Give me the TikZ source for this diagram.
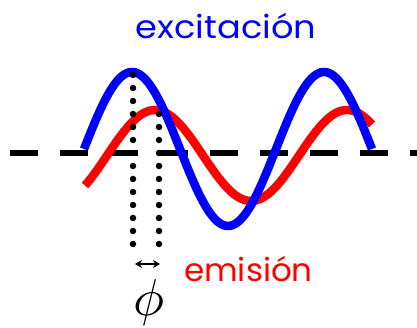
\documentclass[tikz,border=0pt]{standalone}
\usepackage{fontspec}
\setmainfont{Poppins}
\usetikzlibrary{arrows.meta}
\definecolor{wblue}{RGB}{0,0,255}
\definecolor{wred}{RGB}{255,0,0}
\begin{document}
\begin{tikzpicture}[x=1pt,y=-1pt,
  wave/.style={line width=8.5pt},
  guide/.style={line width=6.5pt, line cap=round, dash pattern=on 0pt off 13pt},
  axisline/.style={line width=5.5pt, dash pattern=on 28pt off 22pt},
  lbl/.style={inner sep=0pt, font=\fontsize{32}{36}\selectfont}]
\useasboundingbox (0,0) rectangle (417,328);
\coordinate (axL) at (10,153);
\coordinate (axR) at (417,153);
\draw[axisline] (axL) -- (axR);
\draw[wave, wred] plot[domain=85:372, samples=120] (\x, {155.5 - 45.5*cos(1.875*(\x-155))});
\draw[wave, wblue] plot[domain=84:372, samples=120] (\x, {149 - 77*cos(1.875*(\x-132))});
\coordinate (pA) at (133,75);
\coordinate (pB) at (159,114);
\coordinate (bA) at (133,257);
\coordinate (bB) at (159,257);
\draw[guide] (pA) -- (bA);
\draw[guide] (pB) -- (bB);
\coordinate (aL) at (135,264);
\coordinate (aR) at (160,264);
\draw[line width=2.5pt, {Stealth[length=7pt,width=8pt]}-{Stealth[length=7pt,width=8pt]}] (aL) -- (aR);
\node[lbl, xscale=1.1, text=wblue, anchor=base] (exc) at (226,39) {excitación};
\node[lbl, xscale=1.02, text=wred, anchor=base] (emi) at (248.5,282) {emisión};
\node[inner sep=0pt, anchor=base, scale=5.2] (phi) at (149,315) {$\phi$};
\end{tikzpicture}
\end{document}
